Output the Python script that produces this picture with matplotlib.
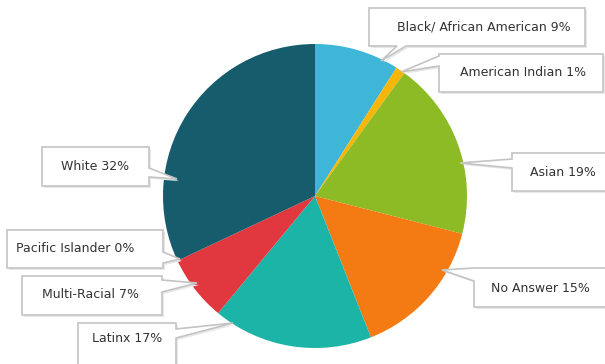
import numpy as np
import matplotlib.pyplot as plt
from matplotlib.patches import Polygon

# canvas in pixels, y measured from the top
W, H = 605, 364

labels = ['Black/ African American', 'American Indian', 'Asian', 'No Answer',
          'Latinx', 'Multi-Racial', 'Pacific Islander', 'White']
values = [9, 1, 19, 15, 17, 7, 0, 32]
colors = ['#3db6d8', '#f6b60a', '#8dbb25', '#f47b13',
          '#1cb4a6', '#e0383e', '#c9c9c9', '#175c6d']

# callout layout: box (x0, y0, x1, y1), side the pointer leaves from,
# pointer base span along that side, tip on the pie, text centre
boxes = [(369, 8, 585, 46), (439, 54, 603, 92), (512, 153, 614, 191),
         (474, 268, 606, 307), (78, 323, 176, 372), (22, 276, 162, 315),
         (7, 230, 163, 268), (42, 147, 149, 186)]
sides = ['bottom', 'left', 'left', 'left', 'right', 'right', 'right', 'right']
bases = [(397, 406), (56, 66), (159, 168), (268, 281), (329, 338),
         (280, 292), (252, 263), (168, 177)]
tips = [(381, 61), (401, 72), (460, 163), (442, 270), (233, 323),
        (197, 283), (180, 259), (177, 179)]
text_pos = [(484, 27), (523, 73), (563, 172), (540, 288), (127, 339),
            (90, 295), (75, 249), (95, 167)]

fig = plt.figure(figsize=(6.05, 3.64), dpi=100)
ax = fig.add_axes([0, 0, 1, 1])

# y axis inverted, so start at -90 and go counterclockwise in data = clockwise on screen
ax.pie(values, colors=colors, center=(315, 196), radius=152,
       startangle=-90, counterclock=True,
       wedgeprops=dict(linewidth=0))
ax.set_xlim(0, W)
ax.set_ylim(H, 0)
ax.set_aspect('equal')
ax.axis('off')


def callout_pts(box, side, base, tip):
    x0, y0, x1, y1 = box
    b0, b1 = base
    if side == 'bottom':
        return [(x0, y0), (x1, y0), (x1, y1), (b1, y1), tip, (b0, y1), (x0, y1)]
    if side == 'left':
        return [(x0, y0), (x1, y0), (x1, y1), (x0, y1), (x0, b1), tip, (x0, b0)]
    return [(x0, y0), (x1, y0), (x1, b0), tip, (x1, b1), (x1, y1), (x0, y1)]


for lab, val, box, side, base, tip, tp in zip(labels, values, boxes, sides,
                                               bases, tips, text_pos):
    pts = np.array(callout_pts(box, side, base, tip), dtype=float)
    shadow = Polygon(pts + [2, 2], closed=True, facecolor='#e8e8e8',
                     edgecolor='none', zorder=3)
    ax.add_patch(shadow)
    poly = Polygon(pts, closed=True, facecolor='white', edgecolor='#c4c4c4',
                   linewidth=1.2, zorder=4)
    ax.add_patch(poly)
    ax.text(tp[0], tp[1], f'{lab} {val}%', ha='center', va='center',
            fontsize=9, color='#333333', family='DejaVu Sans', zorder=5)

fig.savefig('out.png', dpi=100)
